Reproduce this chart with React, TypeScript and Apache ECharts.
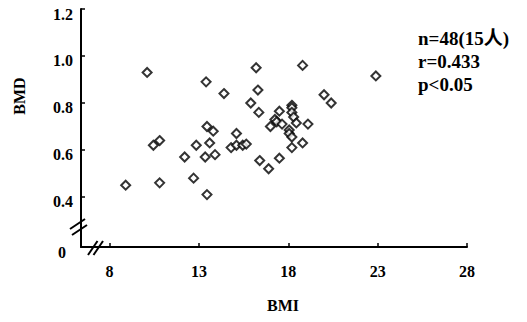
import React, { useEffect, useRef } from "react";
import * as echarts from "echarts";

const bmi = [
  8.9, 10.1, 10.45, 10.8, 10.8, 12.2, 12.7, 12.85, 13.35, 13.4, 13.45, 13.8, 13.6, 13.9, 13.45,
  14.4, 14.8, 15.1, 15.1, 15.45, 15.65, 15.9, 16.2, 16.3, 16.35, 16.4, 16.9, 17.0, 17.25, 17.35,
  17.5, 17.5, 17.65, 18.05, 18.2, 18.2, 18.2, 18.3, 18.45, 18.05, 18.2, 18.2, 18.8, 18.8, 19.1,
  20.0, 20.4, 22.9,
];
const bmd = [
  0.45, 0.93, 0.62, 0.64, 0.46, 0.57, 0.48, 0.62, 0.57, 0.89, 0.7, 0.68, 0.63, 0.58, 0.41,
  0.84, 0.61, 0.62, 0.67, 0.62, 0.625, 0.8, 0.95, 0.855, 0.76, 0.555, 0.52, 0.7, 0.73, 0.72,
  0.765, 0.565, 0.71, 0.685, 0.79, 0.78, 0.76, 0.74, 0.715, 0.67, 0.655, 0.61, 0.63, 0.96, 0.71,
  0.835, 0.8, 0.915,
];
const xTicks = [8, 13, 18, 23, 28];
const yTicks = [0.4, 0.6, 0.8, 1.0, 1.2];
const yBreakValue = 0.187; // bottom of the broken y axis, labelled "0"
const statLines = ["n=48(15人)", "r=0.433", "p<0.05"];
const FONT = "Liberation Serif, Noto Sans CJK SC, serif";

export default function App() {
  const ref = useRef<HTMLDivElement>(null);
  useEffect(() => {
    if (!ref.current) return;
    const chart = echarts.init(ref.current, undefined, { renderer: "svg" });
    const data = bmi.map((x, i) => [x, bmd[i]]);
    const labelStyle = { fontFamily: FONT, fontWeight: "bold" as const, fontSize: 16, color: "#000" };
    const slash = (pts: number[][]) => ({
      type: "polyline",
      shape: { points: pts },
      style: { stroke: "#000", lineWidth: 2, fill: "none" },
      z: 101,
    });
    chart.setOption({
      animation: false,
      backgroundColor: "#fff",
      textStyle: labelStyle,
      grid: { left: 81, right: 60, top: 9, bottom: 75 },
      xAxis: {
        type: "value", min: 6.4, max: 28, name: "BMI", nameLocation: "middle", nameGap: 50,
        nameTextStyle: { ...labelStyle, padding: [0, 0, 0, 18] },
        axisLine: { show: true, lineStyle: { color: "#000", width: 2 } },
        axisTick: { show: true, inside: true, length: 4, customValues: xTicks, lineStyle: { color: "#000", width: 1.5 } },
        axisLabel: { customValues: xTicks, margin: 16, ...labelStyle },
        splitLine: { show: false },
      },
      yAxis: {
        type: "value", min: yBreakValue, max: 1.2, name: "BMD", nameLocation: "middle", nameGap: 54, nameRotate: 90,
        nameTextStyle: { ...labelStyle, padding: [0, 0, 0, 64] },
        axisLine: { show: true, lineStyle: { color: "#000", width: 2 } },
        axisTick: { show: true, inside: true, length: 4, customValues: yTicks, lineStyle: { color: "#000", width: 1.5 } },
        axisLabel: {
          customValues: [yBreakValue, ...yTicks], margin: 8, padding: [10, 0, 0, 0], ...labelStyle,
          formatter: (v: number) => (v < 0.3 ? "{z|0}" : v.toFixed(1)),
          rich: { z: { ...labelStyle, padding: [0, 7, 0, 0] } },
        },
        splitLine: { show: false },
      },
      series: [{ type: "scatter", data, symbol: "diamond", symbolSize: 9, itemStyle: { color: "#fff", borderColor: "#000", borderWidth: 2 } }],
      graphic: [
        slash([[70, 229], [85, 219]]),
        slash([[72, 235], [87, 225]]),
        slash([[88, 255], [97.5, 241]]),
        slash([[93.5, 255], [103, 241]]),
        {
          type: "text", x: 418, y: 27, z: 102,
          style: { text: statLines.join("\n"), font: `bold 19px ${FONT}`, lineHeight: 23, fill: "#000" },
        },
      ],
    });
    return () => chart.dispose();
  }, []);
  return (
    <div>
      <div ref={ref} style={{ position: "absolute", left: 0, top: 0, width: 527, height: 322 }} />
    </div>
  );
}
